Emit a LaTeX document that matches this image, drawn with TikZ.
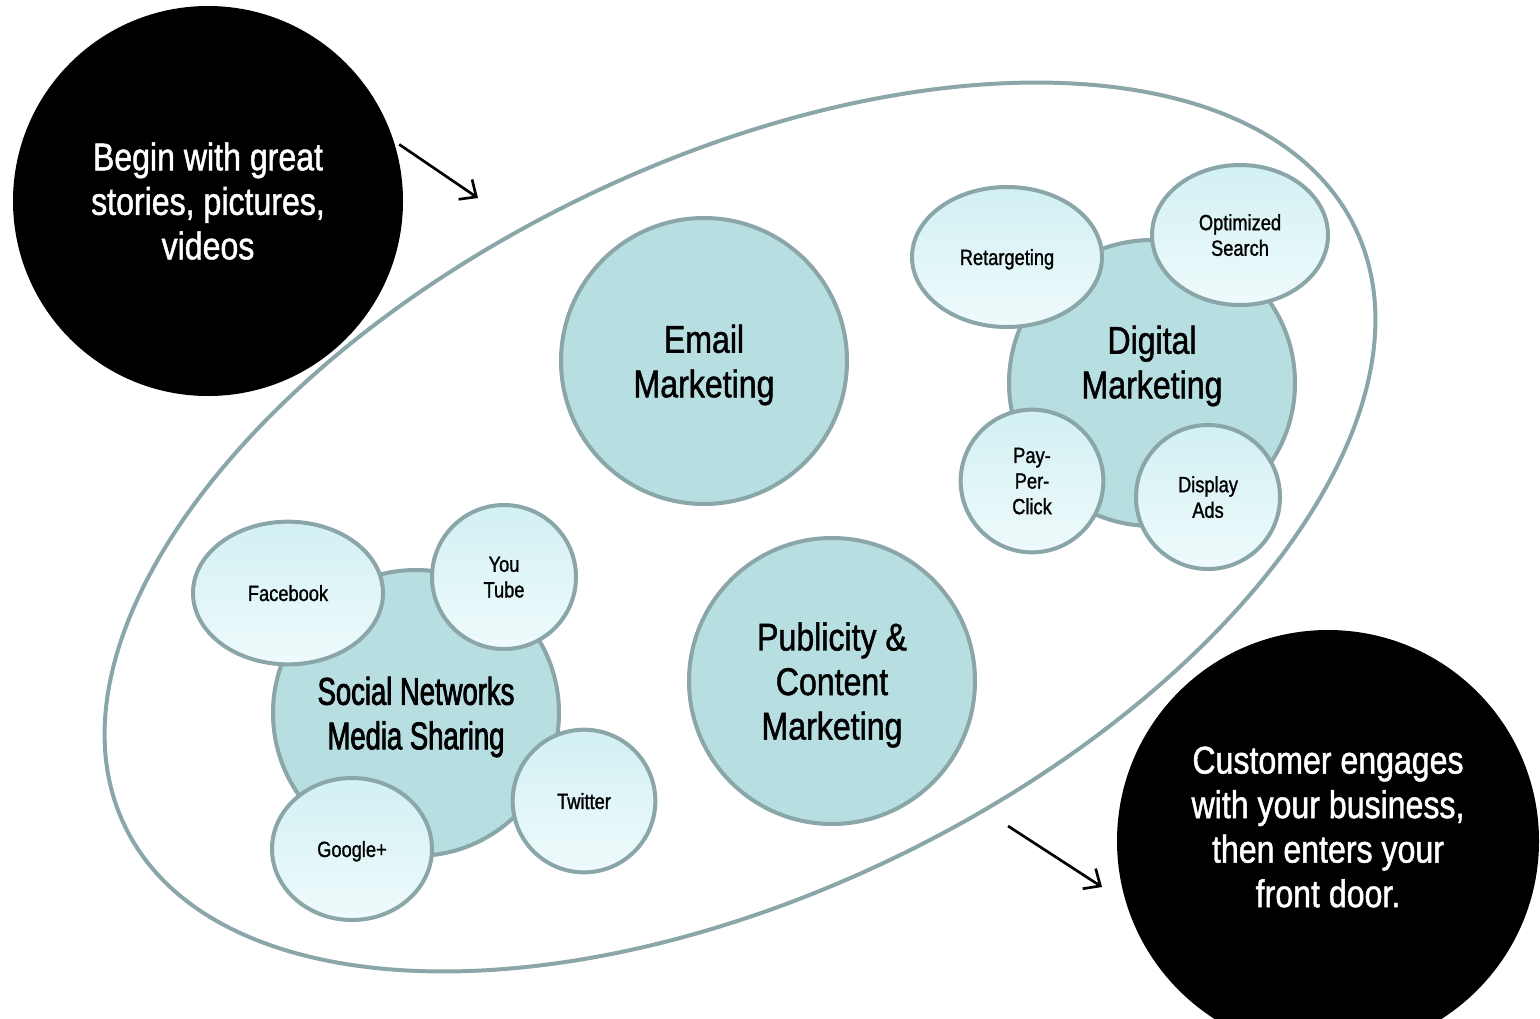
\documentclass[tikz,border=0pt]{standalone}
\usepackage{fontspec}
\setmainfont{Liberation Sans}[FakeStretch=0.83, FakeBold=1.2]
\newfontfamily\tightfont{Liberation Sans}[FakeStretch=0.71, FakeBold=2]
\usetikzlibrary{arrows.meta,shapes.geometric}

\definecolor{ringgray}{HTML}{8AA6A8}
\definecolor{hubfill}{HTML}{B7DEE1}
\definecolor{leaftop}{HTML}{D2F0F3}
\definecolor{leafbot}{HTML}{EFFAFB}

\tikzset{
  hub/.style={circle, draw=ringgray, line width=3pt, fill=hubfill, inner sep=0pt,
    minimum size=214.5pt, align=center, text depth=0pt, font=\fontsize{29}{33.4}\selectfont},
  leaf/.style={circle, draw=ringgray, line width=3pt, top color=leaftop, bottom color=leafbot,
    inner sep=0pt, minimum size=107pt, align=center, text depth=0pt,
    font=\fontsize{16.5}{19.2}\selectfont},
  leafoval/.style={leaf, ellipse},
  blackdot/.style={circle, fill=black, text=white, inner sep=0pt, align=center,
    font=\fontsize{29}{33.4}\selectfont},
  flow/.style={-{Straight Barb[length=10pt,width=18pt]}, line width=2pt}
}

\begin{document}
\begin{tikzpicture}[x=0.75pt, y=-0.75pt]
  \clip (0,0) rectangle (1540,1018);
  % outer ring
  \draw[ringgray, line width=3pt, rotate around={26:(740,527)}]
    (740,527) ellipse [x radius=684, y radius=365];
  % start and end
  \node[blackdot, minimum size=292.5pt] (begin) at (208,201)
    {Begin with great\\stories, pictures,\\videos};
  \node[blackdot, minimum size=316.5pt] (customer) at (1328,841) {};
  \node[text=white, align=center, font=\fontsize{29}{33.4}\selectfont] (customertxt) at (1328,827)
    {Customer engages\\with your business,\\then enters your\\front door.};
  \coordinate (toring) at (478,198);
  \coordinate (fromring) at (1008,826);
  \coordinate (doorway) at (1102,887);
  \draw[flow, shorten <=5pt] (begin.18) -- (toring);
  \draw[flow] (fromring) -- (doorway);
  % email
  \node[hub] (email) at (704,361) {Email\\Marketing};
  % publicity
  \node[hub] (publicity) at (832,681) {Publicity \&\\Content\\Marketing};
  % digital
  \node[hub] (digital) at (1152,383) {};
  \node[align=center, text depth=0pt, font=\fontsize{29}{33.4}\selectfont] (digitaltxt) at (1152,362)
    {Digital\\Marketing};
  \node[leafoval, minimum width=142.5pt, minimum height=105pt] (retarget) at (1007,257) {Retargeting};
  \node[leafoval, minimum width=132pt, minimum height=105pt] (search) at (1240,235) {Optimized\\Search};
  \node[leaf] (ppc) at (1032,481) {Pay-\\Per-\\Click};
  \node[leaf, minimum size=108pt] (display) at (1208,497) {Display\\Ads};
  % social
  \node[hub, font=\tightfont\fontsize{29}{33.4}\selectfont] (social) at (416,713)
    {Social Networks\\Media Sharing};
  \node[leafoval, minimum width=142.5pt, minimum height=107pt] (facebook) at (288,593) {Facebook};
  \node[leaf, minimum size=108pt] (youtube) at (504,577) {You\\Tube};
  \node[leaf] (twitter) at (584,801) {Twitter};
  \node[leafoval, minimum width=120pt, minimum height=106.5pt] (google) at (352,849) {Google+};
\end{tikzpicture}
\end{document}
